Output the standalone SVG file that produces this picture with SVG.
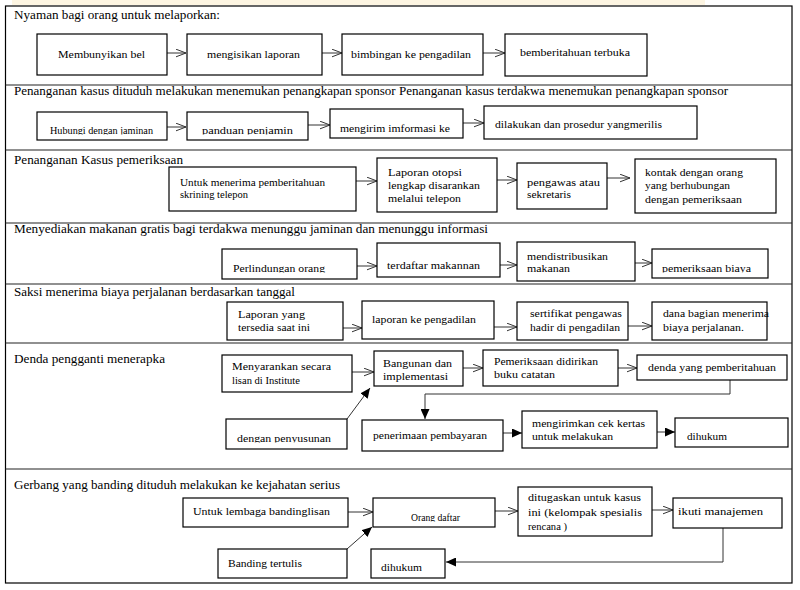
<svg xmlns="http://www.w3.org/2000/svg" width="800" height="590" viewBox="0 0 800 590" font-family="'Liberation Serif', 'Times New Roman', 'DejaVu Serif', serif">
<style>
.bg{fill:#ffffff}
.band{fill:#fdf5e2}
.frame{fill:none;stroke:#000;stroke-width:1.2}
.sep{stroke:#222;stroke-width:1.2}
.box{fill:#fff;stroke:#000;stroke-width:1.2}
text{font-family:'Liberation Serif','Times New Roman','DejaVu Serif',serif}
.title{font-size:13px;fill:#000}
.lbl{font-size:10.5px;fill:#000}
.con{fill:none;stroke:#333;stroke-width:1}
</style>
<defs>
<marker id="open" viewBox="0 0 11 9" refX="10.5" refY="4.5" markerWidth="11" markerHeight="9" markerUnits="userSpaceOnUse" orient="auto">
<path d="M0,0.5 L10.5,4.5 L0,8.5" fill="none" stroke="#333" stroke-width="1"/>
</marker>
<marker id="fill" viewBox="0 0 10 9" refX="10" refY="4.5" markerWidth="10" markerHeight="9" markerUnits="userSpaceOnUse" orient="auto">
<path d="M0,0 L10,4.5 L0,9 z" fill="#000"/>
</marker>
<clipPath id="k133"><rect x="0" y="0" width="800" height="134.5"/></clipPath>
<clipPath id="k271"><rect x="0" y="0" width="800" height="272.5"/></clipPath>
<clipPath id="k441"><rect x="0" y="0" width="800" height="442.5"/></clipPath>
<clipPath id="k520"><rect x="0" y="0" width="800" height="521.5"/></clipPath>
</defs>
<rect class="bg" x="0" y="0" width="800" height="590"/>
<rect class="band" x="12" y="0" width="693" height="5"/>
<rect class="frame" x="5.5" y="6" width="786.5" height="577"/>
<g id="separators">
<line class="sep" x1="5.5" y1="85" x2="792" y2="85"/>
<line class="sep" x1="5.5" y1="150" x2="792" y2="150"/>
<line class="sep" x1="5.5" y1="223" x2="792" y2="223"/>
<line class="sep" x1="5.5" y1="284" x2="792" y2="284"/>
<line class="sep" x1="5.5" y1="343" x2="792" y2="343"/>
<line class="sep" x1="5.5" y1="469" x2="792" y2="469"/>
</g>
<g id="titles">
<text class="title" x="14" y="19" textLength="206" lengthAdjust="spacingAndGlyphs">Nyaman bagi orang untuk melaporkan:</text>
<text class="title" x="14" y="95" textLength="714" lengthAdjust="spacingAndGlyphs">Penanganan kasus dituduh melakukan menemukan penangkapan sponsor Penanganan kasus terdakwa menemukan penangkapan sponsor</text>
<text class="title" x="14" y="164" textLength="169" lengthAdjust="spacingAndGlyphs">Penanganan Kasus pemeriksaan</text>
<text class="title" x="14" y="233" textLength="474" lengthAdjust="spacingAndGlyphs">Menyediakan makanan gratis bagi terdakwa menunggu jaminan dan menunggu informasi</text>
<text class="title" x="14" y="296" textLength="281" lengthAdjust="spacingAndGlyphs">Saksi menerima biaya perjalanan berdasarkan tanggal</text>
<text class="title" x="14" y="363" textLength="151" lengthAdjust="spacingAndGlyphs">Denda pengganti menerapka</text>
<text class="title" x="14" y="489" textLength="326" lengthAdjust="spacingAndGlyphs">Gerbang yang banding dituduh melakukan ke kejahatan serius</text>
</g>
<g id="connectors">
<line class="con" x1="167" y1="53" x2="186" y2="53" marker-end="url(#open)"/>
<line class="con" x1="322" y1="53" x2="342" y2="53" marker-end="url(#open)"/>
<line class="con" x1="483" y1="53" x2="505" y2="53" marker-end="url(#open)"/>
<line class="con" x1="167" y1="127" x2="186" y2="127" marker-end="url(#open)"/>
<line class="con" x1="308" y1="125" x2="330" y2="125" marker-end="url(#open)"/>
<line class="con" x1="463" y1="123" x2="484" y2="123" marker-end="url(#open)"/>
<line class="con" x1="356" y1="181" x2="377" y2="181" marker-end="url(#open)"/>
<line class="con" x1="497" y1="180" x2="517" y2="180" marker-end="url(#open)"/>
<line class="con" x1="607" y1="178" x2="630" y2="178" marker-end="url(#open)"/>
<line class="con" x1="357" y1="266" x2="377" y2="266" marker-end="url(#open)"/>
<line class="con" x1="500" y1="265" x2="517" y2="265" marker-end="url(#open)"/>
<line class="con" x1="635" y1="263" x2="652" y2="263" marker-end="url(#open)"/>
<line class="con" x1="343" y1="328" x2="362" y2="328" marker-end="url(#open)"/>
<line class="con" x1="494" y1="327" x2="517" y2="327" marker-end="url(#open)"/>
<line class="con" x1="628" y1="326" x2="652" y2="326" marker-end="url(#open)"/>
<line class="con" x1="352" y1="372" x2="374" y2="372" marker-end="url(#open)"/>
<line class="con" x1="463" y1="368" x2="483" y2="368" marker-end="url(#open)"/>
<line class="con" x1="618" y1="368" x2="637" y2="368" marker-end="url(#open)"/>
<path class="con" d="M730,380 V394 H425 V419" marker-end="url(#fill)"/>
<line class="con" x1="503" y1="433" x2="522" y2="433" marker-end="url(#fill)"/>
<line class="con" x1="657" y1="432" x2="675" y2="432" marker-end="url(#fill)"/>
<line class="con" x1="347" y1="419" x2="370" y2="388" marker-end="url(#fill)"/>
<line class="con" x1="348" y1="512" x2="373" y2="512" marker-end="url(#open)"/>
<line class="con" x1="495" y1="511" x2="518" y2="511" marker-end="url(#open)"/>
<line class="con" x1="652" y1="510" x2="673" y2="510" marker-end="url(#open)"/>
<path class="con" d="M723,528 V562 H446" marker-end="url(#fill)"/>
<line class="con" x1="347" y1="549" x2="372" y2="527" marker-end="url(#fill)"/>
</g>
<g id="n1-1"><rect class="box" x="37" y="34" width="130" height="41"/><text class="lbl" x="58" y="58" textLength="87" lengthAdjust="spacingAndGlyphs">Membunyikan bel</text></g>
<g id="n1-2"><rect class="box" x="187" y="34" width="135" height="41"/><text class="lbl" x="207" y="58" textLength="93" lengthAdjust="spacingAndGlyphs">mengisikan laporan</text></g>
<g id="n1-3"><rect class="box" x="342" y="34" width="141" height="41"/><text class="lbl" x="351" y="58" textLength="120" lengthAdjust="spacingAndGlyphs">bimbingan ke pengadilan</text></g>
<g id="n1-4"><rect class="box" x="505" y="34" width="142" height="42"/><text class="lbl" x="520" y="56" textLength="110" lengthAdjust="spacingAndGlyphs">bemberitahuan terbuka</text></g>
<g id="n2-1"><rect class="box" x="37" y="112" width="130" height="28"/><text class="lbl" x="50" y="134" textLength="103" lengthAdjust="spacingAndGlyphs" clip-path="url(#k133)">Hubungi dengan jaminan</text></g>
<g id="n2-2"><rect class="box" x="187" y="112" width="121" height="28"/><text class="lbl" x="202" y="134" textLength="91" lengthAdjust="spacingAndGlyphs" clip-path="url(#k133)">panduan penjamin</text></g>
<g id="n2-3"><rect class="box" x="330" y="109" width="133" height="29"/><text class="lbl" x="340" y="132" textLength="110" lengthAdjust="spacingAndGlyphs">mengirim  imformasi ke</text></g>
<g id="n2-4"><rect class="box" x="484" y="106" width="213" height="33"/><text class="lbl" x="495" y="128" textLength="167" lengthAdjust="spacingAndGlyphs">dilakukan dan prosedur yangmerilis</text></g>
<g id="n3-1"><rect class="box" x="169" y="167" width="187" height="44"/><text class="lbl" x="180" y="186" textLength="145" lengthAdjust="spacingAndGlyphs">Untuk menerima pemberitahuan</text><text class="lbl" x="180" y="198" textLength="68" lengthAdjust="spacingAndGlyphs">skrining telepon</text></g>
<g id="n3-2"><rect class="box" x="377" y="158" width="120" height="54"/><text class="lbl" x="388" y="176" textLength="74" lengthAdjust="spacingAndGlyphs">Laporan otopsi</text><text class="lbl" x="388" y="189" textLength="92" lengthAdjust="spacingAndGlyphs">lengkap disarankan</text><text class="lbl" x="388" y="202" textLength="73" lengthAdjust="spacingAndGlyphs">melalui telepon</text></g>
<g id="n3-3"><rect class="box" x="517" y="163" width="90" height="46"/><text class="lbl" x="527" y="186" textLength="73" lengthAdjust="spacingAndGlyphs">pengawas atau</text><text class="lbl" x="527" y="198" textLength="44" lengthAdjust="spacingAndGlyphs">sekretaris</text></g>
<g id="n3-4"><rect class="box" x="635" y="159" width="141" height="54"/><text class="lbl" x="645" y="176" textLength="98" lengthAdjust="spacingAndGlyphs">kontak dengan orang</text><text class="lbl" x="645" y="189" textLength="85" lengthAdjust="spacingAndGlyphs">yang berhubungan</text><text class="lbl" x="645" y="203" textLength="97" lengthAdjust="spacingAndGlyphs">dengan pemeriksaan</text></g>
<g id="n4-1"><rect class="box" x="222" y="249" width="135" height="30"/><text class="lbl" x="233" y="272" textLength="92" lengthAdjust="spacingAndGlyphs" clip-path="url(#k271)">Perlindungan orang</text></g>
<g id="n4-2"><rect class="box" x="377" y="243" width="123" height="34"/><text class="lbl" x="387" y="269" textLength="93" lengthAdjust="spacingAndGlyphs">terdaftar makannan</text></g>
<g id="n4-3"><rect class="box" x="517" y="242" width="118" height="39"/><text class="lbl" x="527" y="260" textLength="81" lengthAdjust="spacingAndGlyphs">mendistribusikan</text><text class="lbl" x="527" y="272" textLength="43" lengthAdjust="spacingAndGlyphs">makanan</text></g>
<g id="n4-4"><rect class="box" x="652" y="249" width="116" height="29"/><text class="lbl" x="662" y="272" textLength="89" lengthAdjust="spacingAndGlyphs" clip-path="url(#k271)">pemeriksaan biaya</text></g>
<g id="n5-1"><rect class="box" x="227" y="302" width="116" height="38"/><text class="lbl" x="238" y="318" textLength="67" lengthAdjust="spacingAndGlyphs">Laporan yang</text><text class="lbl" x="238" y="331" textLength="72" lengthAdjust="spacingAndGlyphs">tersedia saat ini</text></g>
<g id="n5-2"><rect class="box" x="362" y="301" width="132" height="38"/><text class="lbl" x="372" y="323" textLength="104" lengthAdjust="spacingAndGlyphs">laporan ke pengadilan</text></g>
<g id="n5-3"><rect class="box" x="517" y="302" width="111" height="38"/><text class="lbl" x="530" y="317" textLength="92" lengthAdjust="spacingAndGlyphs">sertifikat pengawas</text><text class="lbl" x="530" y="331" textLength="90" lengthAdjust="spacingAndGlyphs">hadir di pengadilan</text></g>
<g id="n5-4"><rect class="box" x="652" y="302" width="115" height="38"/><text class="lbl" x="663" y="317" textLength="106" lengthAdjust="spacingAndGlyphs">dana bagian menerima</text><text class="lbl" x="663" y="331" textLength="81" lengthAdjust="spacingAndGlyphs">biaya perjalanan.</text></g>
<g id="n6-a"><rect class="box" x="222" y="355" width="130" height="37"/><text class="lbl" x="232" y="370" textLength="99" lengthAdjust="spacingAndGlyphs">Menyarankan secara</text><text class="lbl" x="232" y="384" textLength="68" lengthAdjust="spacingAndGlyphs">lisan di Institute</text></g>
<g id="n6-b"><rect class="box" x="374" y="351" width="89" height="35"/><text class="lbl" x="383" y="367" textLength="69" lengthAdjust="spacingAndGlyphs">Bangunan dan</text><text class="lbl" x="383" y="380" textLength="65" lengthAdjust="spacingAndGlyphs">implementasi</text></g>
<g id="n6-c"><rect class="box" x="483" y="350" width="135" height="36"/><text class="lbl" x="494" y="365" textLength="104" lengthAdjust="spacingAndGlyphs">Pemeriksaan didirikan</text><text class="lbl" x="494" y="378" textLength="61" lengthAdjust="spacingAndGlyphs">buku catatan</text></g>
<g id="n6-d"><rect class="box" x="637" y="355" width="150" height="25"/><text class="lbl" x="648" y="371" textLength="128" lengthAdjust="spacingAndGlyphs">denda yang pemberitahuan</text></g>
<g id="n6-e"><rect class="box" x="362" y="420" width="141" height="31"/><text class="lbl" x="373" y="439" textLength="114" lengthAdjust="spacingAndGlyphs">penerimaan pembayaran</text></g>
<g id="n6-f"><rect class="box" x="522" y="411" width="135" height="37"/><text class="lbl" x="532" y="427" textLength="113" lengthAdjust="spacingAndGlyphs">mengirimkan cek kertas</text><text class="lbl" x="532" y="440" textLength="81" lengthAdjust="spacingAndGlyphs">untuk melakukan</text></g>
<g id="n6-g"><rect class="box" x="675" y="418" width="113" height="29"/><text class="lbl" x="687" y="440" textLength="40" lengthAdjust="spacingAndGlyphs">dihukum</text></g>
<g id="n6-h"><rect class="box" x="226" y="419" width="121" height="30"/><text class="lbl" x="237" y="442" textLength="94" lengthAdjust="spacingAndGlyphs" clip-path="url(#k441)">dengan penyusunan</text></g>
<g id="n7-1"><rect class="box" x="183" y="498" width="165" height="29"/><text class="lbl" x="193" y="515" textLength="137" lengthAdjust="spacingAndGlyphs">Untuk lembaga bandinglisan</text></g>
<g id="n7-2"><rect class="box" x="373" y="498" width="122" height="29"/><text class="lbl" x="411" y="521" textLength="49" lengthAdjust="spacingAndGlyphs" clip-path="url(#k520)">Orang daftar</text></g>
<g id="n7-3"><rect class="box" x="518" y="487" width="134" height="49"/><text class="lbl" x="528" y="501" textLength="113" lengthAdjust="spacingAndGlyphs">ditugaskan untuk kasus</text><text class="lbl" x="528" y="516" textLength="114" lengthAdjust="spacingAndGlyphs">ini (kelompak   spesialis</text><text class="lbl" x="528" y="530" textLength="39" lengthAdjust="spacingAndGlyphs">rencana )</text></g>
<g id="n7-4"><rect class="box" x="673" y="498" width="109" height="30"/><text class="lbl" x="678" y="515" textLength="85" lengthAdjust="spacingAndGlyphs">ikuti manajemen</text></g>
<g id="n7-5"><rect class="box" x="218" y="549" width="129" height="29"/><text class="lbl" x="228" y="567" textLength="74" lengthAdjust="spacingAndGlyphs">Banding tertulis</text></g>
<g id="n7-6"><rect class="box" x="371" y="549" width="74" height="29"/><text class="lbl" x="381" y="571" textLength="41" lengthAdjust="spacingAndGlyphs">dihukum</text></g>
</svg>
